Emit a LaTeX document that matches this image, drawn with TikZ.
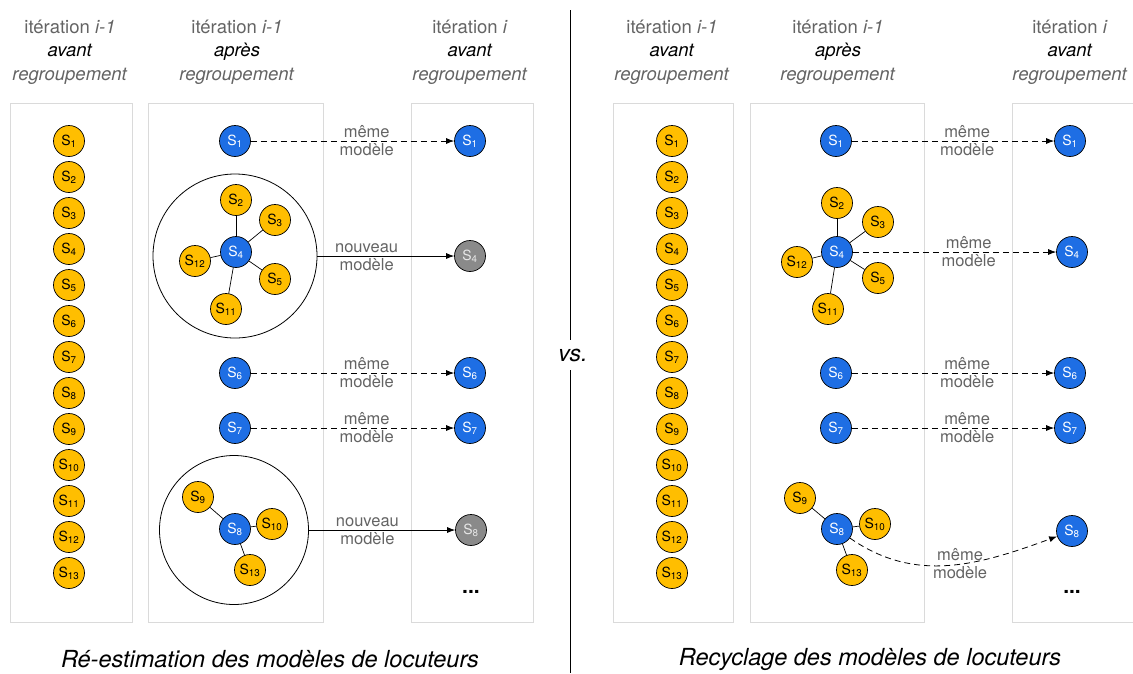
\documentclass[tikz,border=0pt]{standalone}
\usepackage{fontspec}
\setmainfont{TeX Gyre Heros}
\usetikzlibrary{arrows.meta,positioning}
\definecolor{spkyellow}{RGB}{255,190,0}
\definecolor{spkblue}{RGB}{30,110,228}
\definecolor{spkgray}{RGB}{138,138,138}
\definecolor{boxgray}{RGB}{218,218,218}
\definecolor{txtgray}{RGB}{100,100,100}
\tikzset{
  >={Latex[length=8pt, width=6pt]},
  spk/.style={draw=black, circle, minimum size=31pt, inner sep=0pt, line width=0.7pt,
    font=\fontsize{14}{14}\selectfont},
  old/.style={spk, fill=spkyellow, text=black},
  cur/.style={spk, fill=spkblue, text=white},
  new/.style={spk, fill=spkgray, text=white!80!spkgray},
  group/.style={draw, circle, line width=0.8pt, inner sep=0pt},
  panel/.style={draw=boxgray, line width=1pt},
  head/.style={align=center, text=txtgray, font=\fontsize{18.5}{23.5}\selectfont},
  lbl/.style={text=txtgray, inner sep=2.5pt, font=\fontsize{16.5}{16.5}\selectfont},
  same/.style={->, line width=0.8pt, dash pattern=on 6pt off 4pt},
  renew/.style={->, line width=0.8pt},
  caption/.style={font=\fontsize{23.5}{23.5}\selectfont\itshape},
}
\newcommand{\spk}[1]{S\textsubscript{#1}}
\newcommand{\phase}[2]{itération \textit{#1}\\{\color{black}\textit{#2}}\\\textit{regroupement}}

\begin{document}
\begin{tikzpicture}[x=1pt, y=1pt]
  \useasboundingbox (0,0) rectangle (1133,-673);

  % panels
  \draw[panel] (10,-103) rectangle (132,-622);
  \draw[panel] (148,-103) rectangle (323,-622);
  \draw[panel] (411,-103) rectangle (533,-622);
  \draw[panel] (613,-103) rectangle (733,-622);
  \draw[panel] (750,-103) rectangle (924,-622);
  \draw[panel] (1012,-103) rectangle (1140,-622);

  % headers
  \node[head] (la-head) at (70,-52)   {\phase{i-1}{avant}};
  \node[head] (lb-head) at (237,-52)  {\phase{i-1}{après}};
  \node[head] (lc-head) at (470,-52)  {\phase{i}{avant}};
  \node[head] (ra-head) at (672,-52)  {\phase{i-1}{avant}};
  \node[head] (rb-head) at (838,-52)  {\phase{i-1}{après}};
  \node[head] (rc-head) at (1070,-52) {\phase{i}{avant}};

  % speakers before clustering
  \foreach \i in {1,...,13} {
    \node[old] (la\i) at (69,{-141-36*(\i-1)}) {\spk{\i}};
    \node[old] (ra\i) at (672,{-141-36*(\i-1)}) {\spk{\i}};
  }

  %% re-estimation
  \node[cur] (lb1) at (235,-141) {\spk{1}};
  \node[group, minimum size=164pt] (lg4) at (235,-256) {};
  \node[cur] (lb4)  at (236,-252) {\spk{4}};
  \node[old] (lb2)  at (236,-200) {\spk{2}};
  \node[old] (lb3)  at (275,-220) {\spk{3}};
  \node[old] (lb12) at (195,-261) {\spk{12}};
  \node[old] (lb5)  at (275,-279) {\spk{5}};
  \node[old] (lb11) at (226,-309) {\spk{11}};
  \foreach \j in {2,3,12,5,11}
    \draw[line width=0.7pt] (lb4) -- (lb\j);
  \node[cur] (lb6) at (235,-373) {\spk{6}};
  \node[cur] (lb7) at (235,-428) {\spk{7}};
  \node[group, minimum size=149pt] (lg8) at (234,-530) {};
  \node[cur] (lb8)  at (235,-529) {\spk{8}};
  \node[old] (lb9)  at (198,-497) {\spk{9}};
  \node[old] (lb10) at (272,-524) {\spk{10}};
  \node[old] (lb13) at (250,-570) {\spk{13}};
  \foreach \j in {9,10,13}
    \draw[line width=0.7pt] (lb8) -- (lb\j);

  \node[cur] (lc1) at (470,-141) {\spk{1}};
  \node[new] (lc4) at (470,-256) {\spk{4}};
  \node[cur] (lc6) at (470,-373) {\spk{6}};
  \node[cur] (lc7) at (470,-428) {\spk{7}};
  \node[new] (lc8) at (471,-530) {\spk{8}};
  \node (lc-more) at (471,-592) {\fontsize{21}{21}\selectfont\bfseries...};

  \draw[same] (lb1) -- node[lbl, above, pos=.57] {même} node[lbl, below, pos=.57] {modèle} (lc1);
  \draw[renew] (lg4) -- node[lbl, above, pos=.36] {nouveau} node[lbl, below, pos=.36] {modèle} (lc4);
  \draw[same] (lb6) -- node[lbl, above, pos=.57] {même} node[lbl, below, pos=.57] {modèle} (lc6);
  \draw[same] (lb7) -- node[lbl, above, pos=.57] {même} node[lbl, below, pos=.57] {modèle} (lc7);
  \draw[renew] (lg8) -- node[lbl, above, pos=.40] {nouveau} node[lbl, below, pos=.40] {modèle} (lc8);

  %% recycling
  \node[cur] (rb1) at (836,-141) {\spk{1}};
  \node[cur] (rb4)  at (837,-252) {\spk{4}};
  \node[old] (rb2)  at (837,-203) {\spk{2}};
  \node[old] (rb3)  at (878,-222) {\spk{3}};
  \node[old] (rb12) at (797,-262) {\spk{12}};
  \node[old] (rb5)  at (878,-278) {\spk{5}};
  \node[old] (rb11) at (828,-309) {\spk{11}};
  \foreach \j in {2,3,12,5,11}
    \draw[line width=0.7pt] (rb4) -- (rb\j);
  \node[cur] (rb6) at (836,-373) {\spk{6}};
  \node[cur] (rb7) at (836,-428) {\spk{7}};
  \node[cur] (rb8)  at (837,-529) {\spk{8}};
  \node[old] (rb9)  at (800,-498) {\spk{9}};
  \node[old] (rb10) at (875,-524) {\spk{10}};
  \node[old] (rb13) at (852,-570) {\spk{13}};
  \foreach \j in {9,10,13}
    \draw[line width=0.7pt] (rb8) -- (rb\j);

  \node[cur] (rc1) at (1070,-141) {\spk{1}};
  \node[cur] (rc4) at (1072,-252) {\spk{4}};
  \node[cur] (rc6) at (1070,-373) {\spk{6}};
  \node[cur] (rc7) at (1070,-428) {\spk{7}};
  \node[cur] (rc8) at (1072,-531) {\spk{8}};
  \node (rc-more) at (1072,-592) {\fontsize{21}{21}\selectfont\bfseries...};

  \draw[same] (rb1) -- node[lbl, above, pos=.57] {même} node[lbl, below, pos=.57] {modèle} (rc1);
  \draw[same] (rb4) -- node[lbl, above, pos=.57] {même} node[lbl, below, pos=.57] {modèle} (rc4);
  \draw[same] (rb6) -- node[lbl, above, pos=.57] {même} node[lbl, below, pos=.57] {modèle} (rc6);
  \draw[same] (rb7) -- node[lbl, above, pos=.57] {même} node[lbl, below, pos=.57] {modèle} (rc7);
  \draw[same] (rb8) to[out=-35, in=200]
    node[lbl, above, pos=.55] {même} node[lbl, below, pos=.55] {modèle} (rc8);

  % separator
  \draw[line width=0.8pt] (570,-10) -- (570,-673);
  \node[fill=white, inner xsep=4pt, inner ysep=9pt, font=\fontsize{23}{23}\selectfont\itshape]
    (vs) at (573,-355) {vs.};

  % captions
  \node[caption] (cap-l) at (270,-659) {Ré-estimation des modèles de locuteurs};
  \node[caption] (cap-r) at (870,-659) {Recyclage des modèles de locuteurs};
\end{tikzpicture}
\end{document}
